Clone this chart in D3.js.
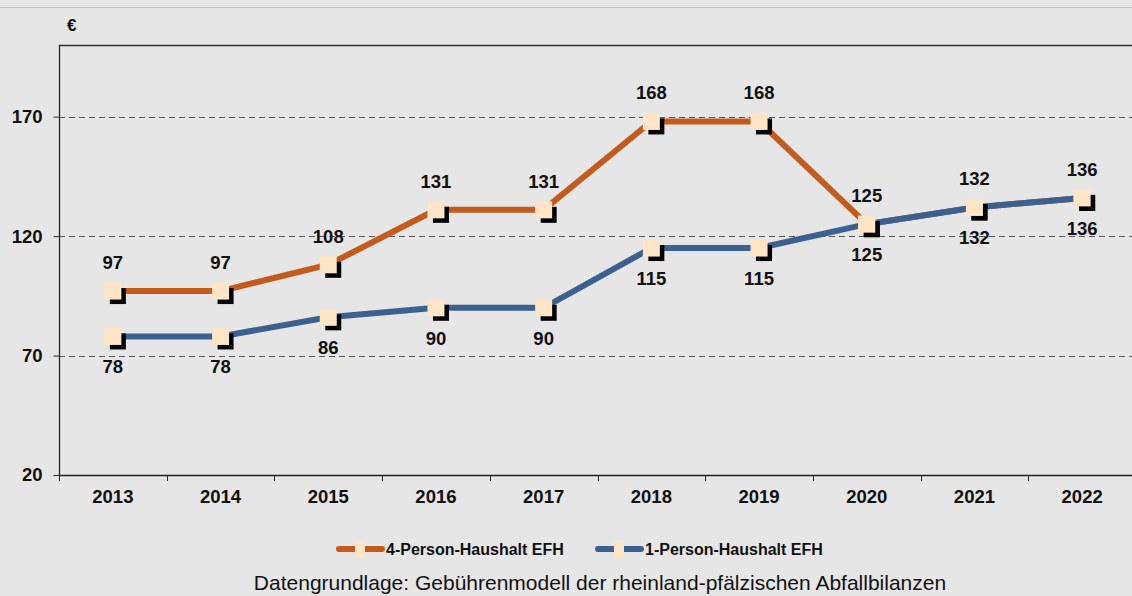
<!DOCTYPE html>
<html>
<head>
<meta charset="utf-8">
<script src="https://cdn.jsdelivr.net/npm/d3@7"></script>
<style>
body { margin: 0; background: #e6e6e6; overflow: hidden; }
svg { display: block; font-family: "Liberation Sans", Arial, sans-serif; }
</style>
</head>
<body>
<script>
// chart data
var years = ["2013","2014","2015","2016","2017","2018","2019","2020","2021","2022"];
var fourPerson = [97, 97, 108, 131, 131, 168, 168, 125, 132, 136];
var onePerson = [78, 78, 86, 90, 90, 115, 115, 125, 132, 136];
var yTicks = [20, 70, 120, 170];

var w = 1132, h = 596;
var padL = 59, padT = 45, baseY = 475;
var bandW = 107.7;

var svg = d3.select("body").append("svg")
  .attr("width", w)
  .attr("height", h);

svg.append("rect").attr("width", w).attr("height", h).attr("fill", "#e6e6e6");
svg.append("line").attr("x1", 0).attr("x2", w).attr("y1", 7.5).attr("y2", 7.5)
  .attr("stroke", "#c0c0c0").attr("stroke-width", 1);

var x = d3.scaleBand().domain(years).range([padL, padL + bandW * years.length]);
var y = d3.scaleLinear().domain([20, 200]).range([baseY, padT]);

// gridlines
svg.selectAll(".grid").data(yTicks.slice(1)).enter().append("line")
  .attr("x1", padL).attr("x2", w)
  .attr("y1", function(d) { return Math.round(y(d)) + 0.5; })
  .attr("y2", function(d) { return Math.round(y(d)) + 0.5; })
  .attr("stroke", "#555").attr("stroke-width", 1)
  .attr("stroke-dasharray", "6,4");

// frame
svg.append("line").attr("x1", padL).attr("x2", w).attr("y1", padT + 0.5).attr("y2", padT + 0.5)
  .attr("stroke", "#333").attr("stroke-width", 1.3);

// y axis
var yAxis = svg.append("g").attr("transform", "translate(" + (padL + 0.5) + ",0)")
  .call(d3.axisLeft(y).tickValues(yTicks).tickSize(6).tickPadding(11));
yAxis.select(".domain").attr("stroke", "#222").attr("stroke-width", 1.3)
  .attr("d", "M0," + padT + "V" + baseY);
yAxis.selectAll("text").attr("font-size", "18.5px").attr("font-weight", "bold")
  .attr("fill", "#111").attr("font-family", "Liberation Sans, Arial, sans-serif");
yAxis.selectAll(".tick line").attr("stroke", "#222");

// x axis
var xAxis = svg.append("g").attr("transform", "translate(0," + (baseY + 0.5) + ")")
  .call(d3.axisBottom(x).tickSize(0).tickPadding(14));
xAxis.select(".domain").attr("stroke", "#222").attr("stroke-width", 1.3)
  .attr("d", "M" + padL + ",0H" + w);
xAxis.selectAll("text").attr("font-size", "18.5px").attr("font-weight", "bold")
  .attr("fill", "#111").attr("font-family", "Liberation Sans, Arial, sans-serif");
svg.selectAll(".xtick").data(years).enter().append("line")
  .attr("x1", function(d) { return Math.round(x(d)) + 0.5; })
  .attr("x2", function(d) { return Math.round(x(d)) + 0.5; })
  .attr("y1", baseY).attr("y2", baseY + 6)
  .attr("stroke", "#222");

svg.append("text").attr("x", 67).attr("y", 31).text("€")
  .attr("font-size", "17px").attr("font-weight", "bold").attr("fill", "#111");

var cx = function(d, i) { return x(years[i]) + x.bandwidth() / 2; };
var line = d3.line().x(cx).y(function(d) { return y(d); });

var series = [
  { vals: fourPerson, color: "#c55a1d", dy: -22, name: "4-Person-Haushalt EFH" },
  { vals: onePerson, color: "#3b6190", dy: 37, name: "1-Person-Haushalt EFH" }
];

series.forEach(function(s) {
  svg.append("path").datum(s.vals).attr("d", line)
    .attr("fill", "none").attr("stroke", s.color).attr("stroke-width", 6);
});

series.forEach(function(s) {
  var g = svg.append("g");
  g.selectAll(".shadow").data(s.vals).enter().append("rect")
    .attr("x", function(d, i) { return cx(d, i) - 8 + 5; })
    .attr("y", function(d) { return y(d) - 8 + 5; })
    .attr("width", 16).attr("height", 16).attr("fill", "#000");
  g.selectAll(".marker").data(s.vals).enter().append("rect")
    .attr("x", function(d, i) { return cx(d, i) - 8.5; })
    .attr("y", function(d) { return y(d) - 8.5; })
    .attr("width", 17).attr("height", 17).attr("fill", "#fde5c6");
  g.selectAll(".lbl").data(s.vals).enter().append("text")
    .attr("x", cx)
    .attr("y", function(d) { return y(d) + s.dy; })
    .attr("text-anchor", "middle")
    .attr("font-size", "18.5px").attr("font-weight", "bold").attr("fill", "#111")
    .text(function(d) { return d; });
});

// legend
var legX = [337, 596];
series.forEach(function(s, i) {
  var lx = legX[i], ly = 549;
  svg.append("line").attr("x1", lx + 2).attr("x2", lx + 45).attr("y1", ly).attr("y2", ly)
    .attr("stroke", s.color).attr("stroke-width", 6).attr("stroke-linecap", "round");
  svg.append("rect").attr("x", lx + 18).attr("y", ly - 8).attr("width", 10).attr("height", 16)
    .attr("fill", "#fde5c6");
  svg.append("text").attr("x", lx + 49).attr("y", ly + 6).text(s.name)
    .attr("font-size", "16px").attr("font-weight", "bold").attr("fill", "#111");
});

svg.append("text").attr("x", 600).attr("y", 590).attr("text-anchor", "middle")
  .attr("font-size", "21px").attr("fill", "#111")
  .text("Datengrundlage: Gebührenmodell der rheinland-pfälzischen Abfallbilanzen");
</script>
</body>
</html>
